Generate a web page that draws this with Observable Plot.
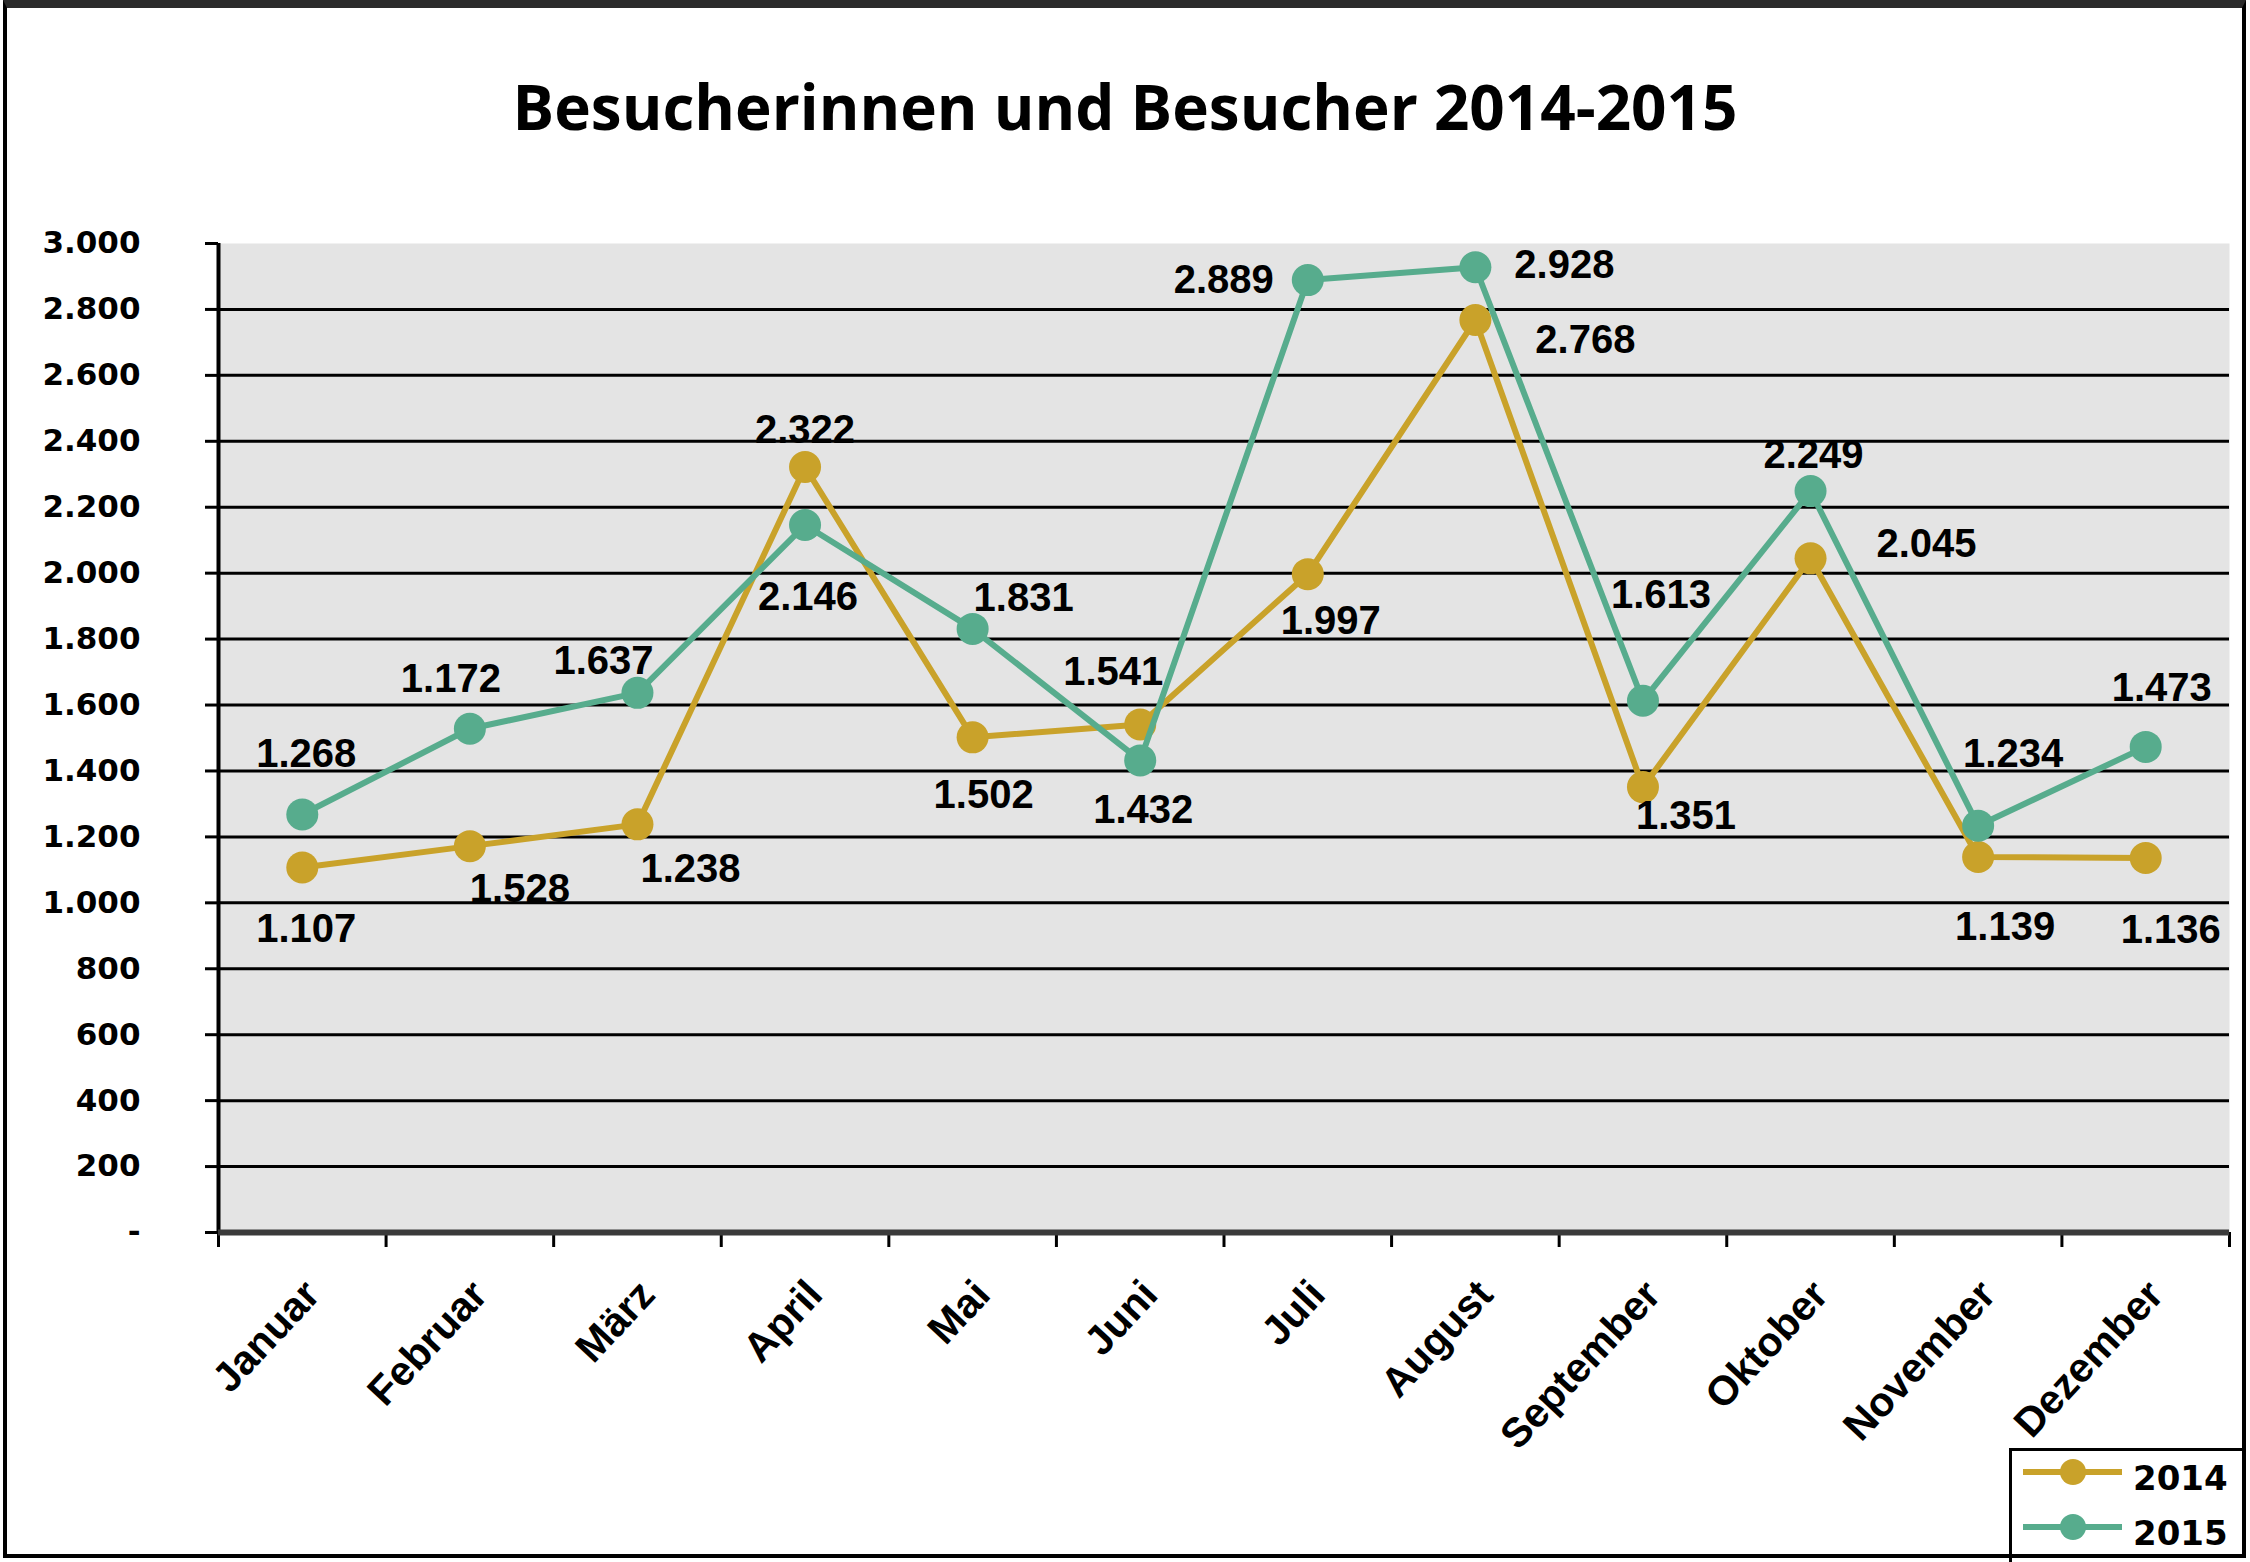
<!DOCTYPE html>
<html><head><meta charset="utf-8">
<script src="https://cdn.jsdelivr.net/npm/d3@7"></script>
<script src="https://cdn.jsdelivr.net/npm/@observablehq/plot@0.6"></script>
<style>
html,body{margin:0;padding:0;background:#fff;}
#page{position:relative;width:2250px;height:1562px;overflow:hidden;background:#fff;}
#title{position:absolute;left:0;top:75px;width:2250px;text-align:center;font-family:"Open Sans",sans-serif;font-weight:700;font-size:62px;line-height:62px;color:#000;white-space:nowrap;}
#chart{position:absolute;left:0;top:160px;}
#legend{position:absolute;left:2009px;top:1448px;width:237px;height:114px;border-left:3px solid #000;border-top:3px solid #000;box-sizing:border-box;}
#frame{position:absolute;left:3px;top:0;width:2243px;height:1558px;border:4px solid #000;border-top:8px solid #2b2b2b;box-sizing:border-box;pointer-events:none;}
</style></head><body>
<div id="page">
  <div id="title">Besucherinnen und Besucher 2014-2015</div>
  <div id="chart"></div>
  <div id="legend"></div>
  <div id="frame"></div>
</div>
<script>
const months = ["Januar","Februar","März","April","Mai","Juni","Juli","August","September","Oktober","November","Dezember"];
const series = ["2014","2015"];
const visitors2014 = [1107,1172,1238,2322,1502,1541,1997,2768,1351,2045,1139,1136];
const visitors2015 = [1268,1528,1637,2146,1831,1432,2889,2928,1613,2249,1234,1473];
const yTicks = d3.range(0, 3001, 200);
const seriesColors = ["#C9A22A", "#57AC8D"];
// label nudges (pixels) relative to each point, as placed in the original
const labelNudge2014 = [[4,62],[-19,-167],[53,45],[0,-37],[11,58],[-27,-52],[23,47],[110,20],[43,29],[116,-14],[27,70],[25,72]];
const labelNudge2015 = [[4,-60],[50,160],[-34,-32],[3,72],[51,-31],[3,50],[-84,0],[89,-2],[18,-106],[3,-36],[35,-72],[16,-59]];

const fmt = d3.formatLocale({decimal: ",", thousands: ".", grouping: [3], currency: ["", "€"]}).format(",d");
const valuesBySeries = [visitors2014, visitors2015];
const nudgesBySeries = [labelNudge2014, labelNudge2015];
const rows = series.map((s, k) => valuesBySeries[k].map((v, i) => ({series: s, month: months[i], i, v})));

const labelFont = "'Liberation Sans', Arial, sans-serif";
const marks = [
  Plot.frame({fill: "#e4e4e4", stroke: "none"}),
  Plot.gridY(d3.range(200, 2801, 200), {stroke: "#000", strokeOpacity: 1, strokeWidth: 3}),
  Plot.axisY({ticks: yTicks, tickFormat: d => d === 0 ? "-" : fmt(d), tickSize: 13, tickPadding: 65, label: null,
    fontSize: 31, fontFamily: "'DejaVu Sans', sans-serif", fontWeight: "bold", strokeWidth: 3, stroke: "#000", fill: "#000"}),
  Plot.ruleX([-0.5], {stroke: "#000", strokeWidth: 4}),
  Plot.axisX({ticks: d3.range(-0.5, 12, 1), tickFormat: () => "", tickSize: 15, strokeWidth: 3, stroke: "#000", label: null}),
  Plot.ruleY([0], {stroke: "#3a3a3a", strokeWidth: 6}),
  Plot.axisX({ticks: d3.range(0, 12), tickFormat: i => months[i], tickSize: 0, tickRotate: -47, tickPadding: 55, label: null,
    fontSize: 41, fontWeight: "bold", fontFamily: labelFont, fill: "#000", dx: 10})
];
rows.forEach((r, k) => {
  marks.push(Plot.line(r, {x: "i", y: "v", stroke: seriesColors[k], strokeWidth: 6}));
  marks.push(Plot.dot(r, {x: "i", y: "v", r: 16, fill: seriesColors[k], stroke: "none"}));
});
rows.forEach((r, k) => {
  r.forEach((d, i) => {
    const [dx, dy] = nudgesBySeries[k][i];
    marks.push(Plot.text([d], {x: "i", y: "v", text: e => fmt(e.v), dx, dy,
      fontSize: 40, fontWeight: "bold", fontFamily: labelFont, fill: "#000"}));
  });
});

const chart = Plot.plot({
  width: 2250, height: 1400,
  marginLeft: 218, marginRight: 21, marginTop: 83, marginBottom: 328,
  x: {domain: [-0.5, 11.5], label: null},
  y: {domain: [0, 3000], label: null},
  style: {background: "transparent", overflow: "visible"},
  marks
});
document.getElementById("chart").appendChild(chart);

// legend
const leg = d3.select("#legend").append("svg").attr("width", 234).attr("height", 111);
series.forEach((s, k) => {
  const y = k === 0 ? 21 : 76;
  leg.append("line").attr("x1", 11).attr("x2", 110).attr("y1", y).attr("y2", y)
    .attr("stroke", seriesColors[k]).attr("stroke-width", 6);
  leg.append("circle").attr("cx", 61).attr("cy", y).attr("r", 13).attr("fill", seriesColors[k]);
  leg.append("text").attr("x", 121).attr("y", y + 18).text(s)
    .attr("font-family", "'DejaVu Sans', sans-serif").attr("font-weight", "bold").attr("font-size", 34).attr("fill", "#000");
});
</script>
</body></html>
